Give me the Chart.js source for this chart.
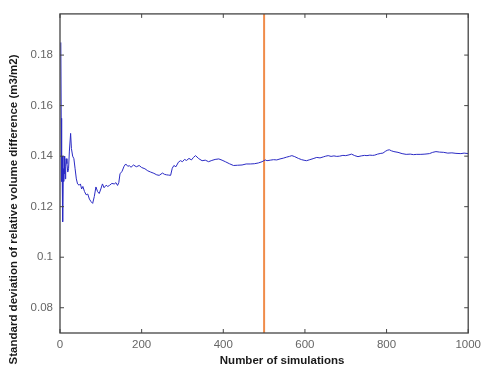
<!DOCTYPE html>
<html>
<head>
<meta charset="utf-8">
<script src="https://cdn.jsdelivr.net/npm/chart.js@4.4.1/dist/chart.umd.min.js"></script>
<style>
  html, body { margin: 0; padding: 0; background: #fff; }
</style>
</head>
<body>
<canvas id="line-chart" width="486" height="373"></canvas>
<script>
// values
const simCounts = [2, 3, 4, 5, 6, 7, 8, 9, 10, 11, 12, 13, 14, 15, 17, 19, 21, 23, 26, 28, 31, 34, 37, 40, 43, 47, 50, 53, 56, 60, 64, 68, 72, 76, 80, 84, 88, 92, 96, 100, 104, 108, 113, 117, 121, 127, 133, 137, 141, 144, 147, 152, 157, 161, 166, 170, 174, 180, 187, 194, 200, 208, 215, 222, 230, 237, 243, 251, 256, 261, 266, 271, 275, 279, 284, 290, 295, 300, 305, 310, 316, 322, 327, 332, 340, 348, 356, 364, 372, 380, 389, 397, 405, 415, 425, 435, 446, 456, 466, 476, 486, 495, 503, 507, 515, 523, 531, 539, 547, 555, 562, 568, 575, 584, 592, 600, 604, 612, 620, 629, 637, 645, 651, 657, 664, 671, 678, 685, 693, 700, 708, 714, 722, 730, 738, 746, 752, 759, 766, 771, 778, 786, 791, 798, 803, 807, 812, 818, 828, 838, 848, 858, 866, 874, 884, 894, 905, 913, 921, 930, 940, 950, 960, 970, 982, 990, 1000];
const stdDev = [0.185, 0.155, 0.130, 0.140, 0.125, 0.114, 0.135, 0.130, 0.140, 0.133, 0.139, 0.131, 0.136, 0.139, 0.137, 0.1337, 0.135, 0.142, 0.149, 0.143, 0.140, 0.139, 0.135, 0.131, 0.129, 0.1285, 0.129, 0.127, 0.128, 0.126, 0.1247, 0.125, 0.123, 0.122, 0.1213, 0.124, 0.1278, 0.126, 0.1252, 0.127, 0.129, 0.1275, 0.1285, 0.128, 0.1284, 0.1292, 0.129, 0.1295, 0.1284, 0.1295, 0.133, 0.134, 0.136, 0.1369, 0.136, 0.1362, 0.1356, 0.1365, 0.1358, 0.1363, 0.1355, 0.135, 0.1342, 0.1337, 0.1332, 0.1326, 0.1324, 0.1333, 0.1328, 0.1326, 0.1325, 0.1324, 0.1352, 0.1363, 0.1358, 0.1376, 0.1382, 0.1378, 0.1387, 0.1383, 0.1391, 0.1385, 0.1395, 0.1402, 0.139, 0.1382, 0.1384, 0.1378, 0.1383, 0.1387, 0.1389, 0.1384, 0.1378, 0.137, 0.1363, 0.1364, 0.1365, 0.1369, 0.1369, 0.137, 0.1373, 0.1378, 0.1385, 0.1382, 0.1384, 0.1386, 0.1385, 0.1389, 0.1392, 0.1396, 0.1399, 0.1402, 0.1398, 0.1391, 0.1386, 0.1383, 0.1382, 0.1386, 0.139, 0.1395, 0.1393, 0.1397, 0.14, 0.1402, 0.1399, 0.1401, 0.1399, 0.14, 0.1403, 0.1402, 0.1405, 0.1408, 0.1402, 0.1398, 0.1401, 0.1403, 0.1402, 0.1404, 0.1403, 0.1404, 0.1408, 0.1411, 0.1412, 0.142, 0.1424, 0.1425, 0.1421, 0.1418, 0.1415, 0.141, 0.1407, 0.1408, 0.1406, 0.1407, 0.1407, 0.1408, 0.141, 0.1415, 0.1418, 0.1416, 0.1415, 0.1412, 0.1413, 0.1411, 0.141, 0.1412, 0.141];

const markerRun = 500; // orange reference line
const xTickValues = [0, 200, 400, 600, 800, 1000];
const yTickValues = [0.08, 0.10, 0.12, 0.14, 0.16, 0.18];
const xRange = [0, 1000];
const yRange = [0.07, 0.1963];
const xTitle = 'Number of simulations';
const yTitle = 'Standard deviation of relative volume difference (m3/m2)';

const tickFont = { family: '"Liberation Sans", Arial, sans-serif', size: 11.5 };
const titleFont = 'bold 11.5px "Liberation Sans", Arial, sans-serif';

// matlab style box with inward ticks, plus the two axis titles
const frameTicks = {
  id: 'frameTicks',
  afterDraw(chart) {
    const { ctx, chartArea: a, scales: { x, y } } = chart;
    ctx.save();
    ctx.strokeStyle = '#444';
    ctx.lineWidth = 1.3;
    ctx.strokeRect(a.left, a.top, a.right - a.left, a.bottom - a.top);

    ctx.beginPath();
    x.ticks.forEach(t => {
      const px = x.getPixelForValue(t.value);
      ctx.moveTo(px, a.bottom); ctx.lineTo(px, a.bottom - 4);
      ctx.moveTo(px, a.top); ctx.lineTo(px, a.top + 4);
    });
    y.ticks.forEach(t => {
      const py = y.getPixelForValue(t.value);
      ctx.moveTo(a.left, py); ctx.lineTo(a.left + 4, py);
      ctx.moveTo(a.right, py); ctx.lineTo(a.right - 4, py);
    });
    ctx.lineWidth = 1;
    ctx.stroke();

    ctx.fillStyle = '#1a1a1a';
    ctx.font = titleFont;
    ctx.textAlign = 'center';
    ctx.textBaseline = 'middle';
    ctx.fillText(xTitle, (a.left + a.right) / 2 + 18, a.bottom + 28);

    ctx.translate(14, (a.top + a.bottom) / 2 + 36);
    ctx.rotate(-Math.PI / 2);
    ctx.fillText(yTitle, 0, 0);
    ctx.restore();
  }
};

const ctx = document.getElementById('line-chart').getContext('2d');

new Chart(ctx, {
  type: 'line',
  data: {
    datasets: [
      {
        label: 'Std dev',
        data: simCounts.map((n, i) => ({ x: n, y: stdDev[i] })),
        borderColor: '#2b2bc4',
        borderWidth: 1,
        pointRadius: 0,
        tension: 0,
      },
      {
        label: 'Marker',
        data: [{ x: markerRun, y: yRange[0] }, { x: markerRun, y: yRange[1] }],
        borderColor: '#f08c4a',
        borderWidth: 2,
        pointRadius: 0,
      }
    ]
  },
  options: {
    responsive: false,
    animation: false,
    layout: { padding: { top: 10, right: 15, left: 0, bottom: 0 } },
    plugins: {
      legend: { display: false },
      tooltip: { enabled: false }
    },
    scales: {
      x: {
        type: 'linear',
        min: xRange[0],
        max: xRange[1],
        grid: { display: false, drawTicks: false },
        border: { display: false },
        afterBuildTicks: s => { s.ticks = xTickValues.map(v => ({ value: v })); },
        afterFit: s => { s.height = 40; },
        ticks: { color: '#666', font: tickFont, padding: 5, maxRotation: 0, callback: v => String(v) }
      },
      y: {
        type: 'linear',
        min: yRange[0],
        max: yRange[1],
        grid: { display: false, drawTicks: false },
        border: { display: false },
        afterBuildTicks: s => { s.ticks = yTickValues.map(v => ({ value: v })); },
        afterFit: s => { s.width = 60; },
        ticks: {
          color: '#666',
          font: tickFont,
          padding: 7,
          callback: v => String(Number(v.toFixed(2)))
        }
      }
    }
  },
  plugins: [frameTicks]
});
</script>
</body>
</html>
